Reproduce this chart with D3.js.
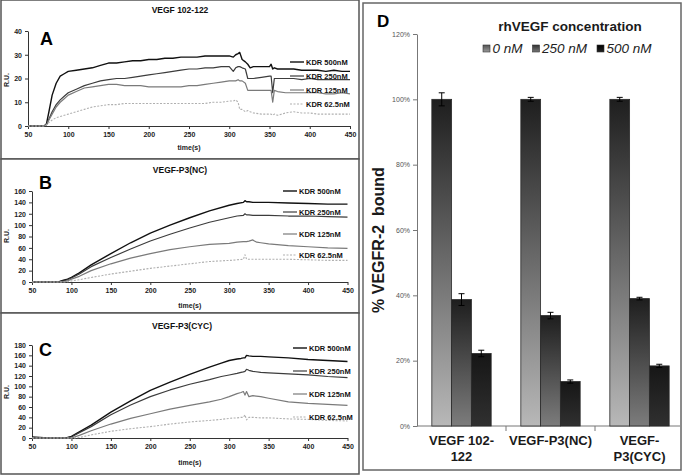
<!DOCTYPE html>
<html><head><meta charset="utf-8">
<script src="https://cdn.jsdelivr.net/npm/d3@7/dist/d3.min.js"></script>
<style>
body{margin:0;background:#fff;}
svg{display:block;font-family:"Liberation Sans",Arial,sans-serif;}
</style>
</head><body>
<svg id="c" width="685" height="476"></svg>
<script>
// ---------- Panel A: VEGF 102-122 ----------
const timeA = [50,60,70,73,76,80,85,90,95,100,110,120,130,140,150,160,170,180,190,200,210,220,230,240,250,260,270,280,290,300,305,308,311,313,316,320,323,326,330,340,350,352,354,356,360,370,380,390,400,410,420,430,440,450];
const a500 = [0,0,0,1,6,13,18,21,22,23,23.5,24,24.5,25.5,26.5,26.5,27,27.5,27.5,28,28,28.5,28.5,29,29,29,29.5,29.5,29.5,29.5,29,30,30.5,31,28,27,26,24.5,25,25,25,26,24,24.5,24,24,24,23.5,23.5,23.5,23,23.5,23,23];
const a250 = [0,0,0,0.5,3,6,9,11,12.5,14,15.5,17,18,19,19.5,20,20,20.5,21,21.5,22,22.5,23,23.5,24,24,24.5,24.5,25,25,23,24.5,25,25,24.5,24,20,20,20,20.5,21,21,14,20,20,20,20,19.5,20,19.5,19.5,19.5,19.5,19.5];
const a125 = [0,0,0,0.5,2.5,5,8,10,11.5,13,14.5,16,16.5,17,17.5,17.5,17,17,17,16.5,16.5,16.5,16.5,16.5,17,17,17.5,18,18.5,19,19,19,19.5,19,19,18,15,15,15,15,15,15,10,15,14.5,14,14,14,14,14,13.5,13.5,14,13.5];
const a62 = [0,0,0,0.5,1.5,2.5,3.5,4,4.5,5,6,7,8,8.5,9,9,9.5,9.5,9.5,9.5,9.5,9.5,9.5,9.5,9.5,9.5,9.5,10,10,10.5,10.5,11,10,7,7,6,6.5,6,5.5,5,5,5,4.5,5,4.5,5.5,6,5.5,5.5,5,5,5,5,5];

// ---------- Panel B: VEGF-P3(NC) ----------
const timeB = [50,60,70,80,85,90,95,100,110,125,150,175,200,225,250,275,300,310,318,320,322,325,330,332,335,340,350,375,400,425,450];
const b500 = [0,0,0,0,1,3,5,8,16,30,50,69,86,100,113,125,135,138,140,143,141,141,140,140,140,140,140,139,138,137,137];
const b250 = [0,0,0,0,0.5,2,4,7,14,27,43,58,72,84,95,105,113,116,117,120,118,118,117,117,117,117,117,116,116,115,114];
const b125 = [0,0,0,0,0,0.5,2,5,10,20,32,42,50,57,62,66,68,70,71,71,71,72,74,72,70,69,67,64,62,60,59];
const b62 = [0,0,0,0,0,0,0.5,2,4,8,14,19,24,28,32,36,38,39,40,48,40,40,40,40,40,40,40,40,39,38,38];

// ---------- Panel C: VEGF-P3(CYC) ----------
const timeC = [50,60,70,80,90,95,100,110,125,150,175,200,225,250,275,290,300,310,315,318,320,322,325,330,340,350,375,400,425,450];
const c500 = [2,1,0,0,0,1,3,12,25,50,72,92,108,123,137,145,150,153,154,155,155,160,159,158,158,157,155,152,150,148];
const c250 = [1,0,0,0,0,0,2,10,22,45,64,80,93,104,113,119,122,125,127,128,129,133,131,129,127,126,124,122,119,117];
const c125 = [0,0,0,0,0,0,0,5,14,27,38,47,56,63,70,75,80,86,88,90,83,90,80,82,80,77,70,67,65,63];
const c62 = [0,0,0,0,0,0,0,1,6,13,18,22,27,31,34,36,38,39,40,40,45,35,40,40,39,39,37,36,34,33];

const kdrNames = ["KDR 500nM","KDR 250nM","KDR 125nM","KDR 62.5nM"];
const timeTicks = [50,100,150,200,250,300,350,400,450];

// ---------- Panel D ----------
const dCategories = ["VEGF 102-122","VEGF-P3(NC)","VEGF-P3(CYC)"];
const dLabelLines = [["VEGF 102-","122"],["VEGF-P3(NC)"],["VEGF-","P3(CYC)"]];
const dSeries = ["0 nM","250 nM","500 nM"];
const bound0 = [100,100,100];
const bound250 = [38.7,33.8,39.0];
const bound500 = [22.2,13.6,18.4];
const err0 = [2.0,0.6,0.6];
const err250 = [1.8,1.0,0.4];
const err500 = [1.0,0.5,0.5];
const dTicks = [0,20,40,60,80,100,120];
const yLabel = "% VEGFR-2  bound";

const svg = d3.select("#c");
svg.append("rect").attr("width",685).attr("height",476).attr("fill","#fff");

const lineStyles = [
  {color:"#111", w:1.4, dash:null},
  {color:"#3c3c3c", w:1.2, dash:null},
  {color:"#7a7a7a", w:1.2, dash:null},
  {color:"#b0b0b0", w:1.1, dash:"2,1.5"}
];

function panel(cfg){
  const g = svg.append("g");
  g.append("rect").attr("x",cfg.box[0]).attr("y",cfg.box[1]).attr("width",cfg.box[2]).attr("height",cfg.box[3])
    .attr("fill","#fff").attr("stroke","#555").attr("stroke-width",1.5);
  const x = d3.scaleLinear().domain([50,450]).range(cfg.xr);
  const y = d3.scaleLinear().domain([0,cfg.ymax]).range(cfg.yr);
  const ya = g.append("g").attr("transform",`translate(${cfg.xr[0]},0)`)
    .call(d3.axisLeft(y).tickValues(d3.range(0,cfg.ymax+1,cfg.ystep)).tickSize(3).tickPadding(3).tickSizeOuter(0));
  const xa = g.append("g").attr("transform",`translate(0,${cfg.yr[0]})`)
    .call(d3.axisBottom(x).tickValues(timeTicks).tickSize(3).tickPadding(3).tickSizeOuter(0));
  [ya,xa].forEach(a=>{
    a.selectAll("path,line").attr("stroke","#333").attr("stroke-width",1);
    a.selectAll("text").attr("fill","#222").attr("font-size","7px").attr("font-weight","bold")
      .attr("font-family","'Liberation Sans',Arial,sans-serif");
  });
  cfg.series.forEach((vals,i)=>{
    const st = lineStyles[i];
    const pts = cfg.times.map((t,j)=>[t,vals[j]]);
    g.append("path").datum(pts)
      .attr("d",d3.line().x(d=>x(d[0])).y(d=>y(d[1])))
      .attr("fill","none").attr("stroke",st.color).attr("stroke-width",st.w)
      .attr("stroke-dasharray",st.dash).attr("stroke-linejoin","round");
  });
  kdrNames.forEach((n,i)=>{
    const st = lineStyles[i];
    const ly = cfg.legY[i];
    g.append("line").attr("x1",cfg.legX).attr("x2",cfg.legX+14).attr("y1",ly).attr("y2",ly)
      .attr("stroke",st.color).attr("stroke-width",st.w).attr("stroke-dasharray",st.dash);
    g.append("text").attr("x",cfg.legX+16).attr("y",ly+2.6).text(n)
      .attr("font-size","7.5px").attr("font-weight","bold").attr("fill","#111");
  });
  g.append("text").attr("x",cfg.titleX).attr("y",cfg.titleY).attr("text-anchor","middle")
    .attr("font-size","8.5px").attr("font-weight","bold").attr("fill","#111").text(cfg.title);
  g.append("text").attr("x",cfg.letterX).attr("y",cfg.letterY)
    .attr("font-size","18px").attr("font-weight","bold").attr("fill","#000").text(cfg.letter);
  g.append("text").attr("x",(cfg.xr[0]+cfg.xr[1])/2).attr("y",cfg.timeY).attr("text-anchor","middle")
    .attr("font-size","7px").attr("font-weight","bold").attr("fill","#222").text("time(s)");
  g.append("text").attr("transform",`translate(9,${cfg.ruY}) rotate(-90)`).attr("text-anchor","middle")
    .attr("font-size","7px").attr("font-weight","bold").attr("fill","#222").text("R.U.");
}

panel({box:[1,0,358,159], xr:[28,350], yr:[126,31], ymax:40, ystep:10,
  times:timeA, series:[a500,a250,a125,a62], legX:290, legY:[62,76,90,104],
  title:"VEGF 102-122", titleX:180, titleY:13, letter:"A", letterX:40, letterY:45, timeY:150, ruY:80});
panel({box:[1,159,358,154], xr:[32,347.5], yr:[282,191], ymax:160, ystep:20,
  times:timeB, series:[b500,b250,b125,b62], legX:283, legY:[191,212,234,255],
  title:"VEGF-P3(NC)", titleX:180, titleY:173, letter:"B", letterX:39, letterY:189, timeY:308, ruY:236});
panel({box:[1,313,358,161], xr:[32,347.5], yr:[438,345], ymax:180, ystep:20,
  times:timeC, series:[c500,c250,c125,c62], legX:293, legY:[348,371,394,417],
  title:"VEGF-P3(CYC)", titleX:182, titleY:329, letter:"C", letterX:39, letterY:356, timeY:465, ruY:392});

// ---------- Panel D ----------
const gd = svg.append("g");
gd.append("rect").attr("x",363).attr("y",3).attr("width",318).attr("height",467)
  .attr("fill","#fff").attr("stroke","#666").attr("stroke-width",1.5);

const defs = svg.append("defs");
const gradStops = [["#1e1e1e","#b8b8b8"],["#1e1e1e","#7c7c7c"],["#161616","#303030"]];
gradStops.forEach((s,i)=>{
  const lg = defs.append("linearGradient").attr("id","gr"+i).attr("x1",0).attr("y1",0).attr("x2",0).attr("y2",1);
  lg.append("stop").attr("offset","0%").attr("stop-color",s[0]);
  lg.append("stop").attr("offset","100%").attr("stop-color",s[1]);
});
const legGrad = [["#555","#999"],["#333","#777"],["#000","#222"]];
legGrad.forEach((s,i)=>{
  const lg = defs.append("linearGradient").attr("id","lg"+i).attr("x1",0).attr("y1",0).attr("x2",0).attr("y2",1);
  lg.append("stop").attr("offset","0%").attr("stop-color",s[0]);
  lg.append("stop").attr("offset","100%").attr("stop-color",s[1]);
});

const x0 = d3.scaleBand().domain(dCategories).range([417,684]).paddingInner(0).paddingOuter(0);
const x1 = d3.scaleBand().domain(dSeries).range([0,x0.bandwidth()]).paddingInner(0).paddingOuter(0.75);
const yD = d3.scaleLinear().domain([0,120]).range([426,34]);

const yAx = gd.append("g").attr("transform","translate(417,0)")
  .call(d3.axisLeft(yD).tickValues(dTicks).tickFormat(d=>d+"%").tickSize(4).tickPadding(3).tickSizeOuter(0));
yAx.selectAll("path,line").attr("stroke","#777");
yAx.selectAll("text").attr("font-size","7px").attr("fill","#555").attr("font-family","'Liberation Sans',Arial,sans-serif");

gd.append("line").attr("x1",417).attr("x2",680).attr("y1",426).attr("y2",426).attr("stroke","#777");
dCategories.slice(1).forEach(c=>{
  gd.append("line").attr("x1",x0(c)).attr("x2",x0(c)).attr("y1",426).attr("y2",431).attr("stroke","#777");
});

const seriesVals = [bound0,bound250,bound500];
const seriesErr = [err0,err250,err500];
dCategories.forEach((cat,ci)=>{
  dSeries.forEach((s,si)=>{
    const v = seriesVals[si][ci];
    const bx = x0(cat)+x1(s);
    gd.append("rect").attr("x",bx).attr("y",yD(v)).attr("width",x1.bandwidth()).attr("height",yD(0)-yD(v))
      .attr("fill",`url(#gr${si})`).attr("stroke","#2a2a2a").attr("stroke-width",0.8);
  });
});
dCategories.forEach((cat,ci)=>{
  dSeries.forEach((s,si)=>{
    const v = seriesVals[si][ci], e = seriesErr[si][ci];
    const cx = x0(cat)+x1(s)+x1.bandwidth()/2;
    gd.append("line").attr("x1",cx).attr("x2",cx).attr("y1",yD(v+e)).attr("y2",yD(v-e)).attr("stroke","#000").attr("stroke-width",1);
    [v+e,v-e].forEach(q=>gd.append("line").attr("x1",cx-3).attr("x2",cx+3).attr("y1",yD(q)).attr("y2",yD(q)).attr("stroke","#000").attr("stroke-width",1));
  });
});

dCategories.forEach((cat,ci)=>{
  const cx = x0(cat)+x0.bandwidth()/2;
  dLabelLines[ci].forEach((ln,li)=>{
    gd.append("text").attr("x",cx).attr("y",445+li*16).attr("text-anchor","middle")
      .attr("font-size","13px").attr("font-weight","bold").attr("fill","#1a1a1a").text(ln);
  });
});

// y label (rotated)
gd.append("text").attr("transform","translate(384,240) rotate(-90)").attr("text-anchor","middle")
  .attr("font-size","16px").attr("font-weight","bold").attr("fill","#1a1a1a")
  .attr("xml:space","preserve").style("white-space","pre").text(yLabel);

gd.append("text").attr("x",377).attr("y",27).attr("font-size","17px").attr("font-weight","bold").attr("fill","#000").text("D");

gd.append("text").attr("x",570).attr("y",31).attr("text-anchor","middle")
  .attr("font-size","13.5px").attr("font-weight","bold").attr("fill","#1a1a1a").text("rhVEGF concentration");
const legXs = [483,532.5,597];
dSeries.forEach((s,i)=>{
  gd.append("rect").attr("x",legXs[i]).attr("y",45).attr("width",7).attr("height",7)
    .attr("fill",`url(#lg${i})`).attr("stroke","#333").attr("stroke-width",0.6);
  gd.append("text").attr("x",legXs[i]+9.5).attr("y",53).attr("font-size","13.5px").attr("font-style","italic")
    .attr("fill","#222").text(s);
});
</script>
</body></html>
